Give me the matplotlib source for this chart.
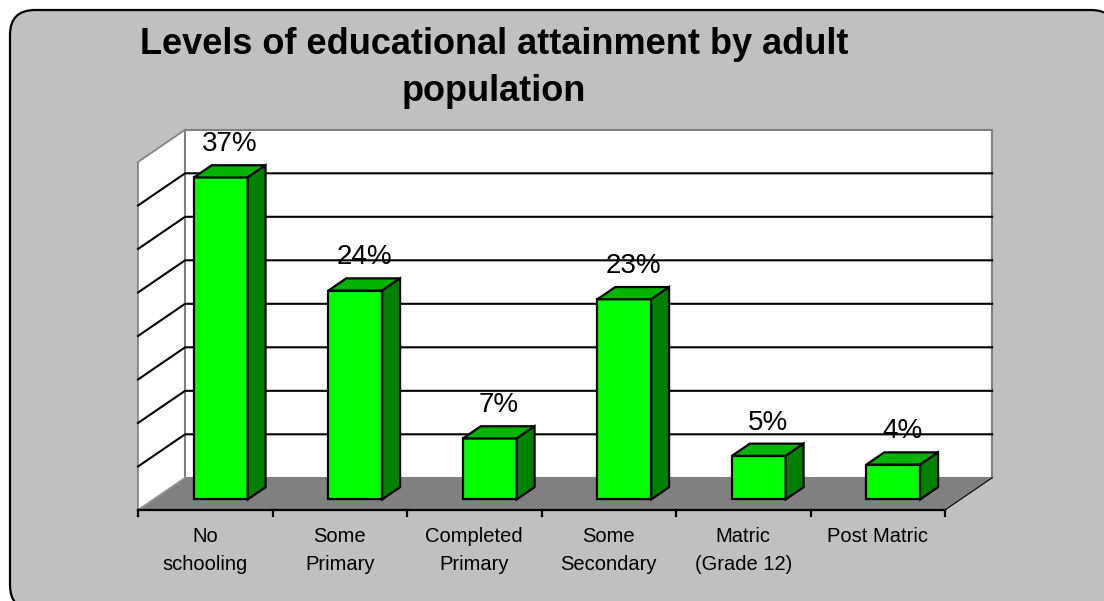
import matplotlib
matplotlib.use('Agg')
import matplotlib.pyplot as plt
from matplotlib.patches import Polygon, FancyBboxPatch

plt.rcParams['font.family'] = ['Liberation Sans', 'DejaVu Sans']

categories = ['No\nschooling', 'Some\nPrimary', 'Completed\nPrimary',
              'Some\nSecondary', 'Matric\n(Grade 12)', 'Post Matric']
shares = [37, 24, 7, 23, 5, 4]
labels = ['37%', '24%', '7%', '23%', '5%', '4%']
y_max, y_step = 40, 5

W, H = 1104, 601
fig = plt.figure(figsize=(W / 100, H / 100), dpi=100)
fig.patch.set_facecolor('white')

# background panel in pixel units
bg = fig.add_axes([0, 0, 1, 1])
bg.set_xlim(0, W); bg.set_ylim(H, 0); bg.axis('off')
bg.add_patch(FancyBboxPatch((10, 10), 1106, 600,
                            boxstyle='round,pad=0,rounding_size=25',
                            fc='#c0c0c0', ec='black', lw=1.6))
bg.text(494, 27, 'Levels of educational attainment by adult\npopulation',
        ha='center', va='top', fontsize=26, fontweight='bold',
        linespacing=1.45)

# front plane of the floor: x in categories, y in percent
left, right, base, top = 138, 945, 510, 510 - y_max * 8.7
ax = fig.add_axes([left / W, (H - base) / H, (right - left) / W, (base - top) / H])
ax.set_xlim(-0.5, len(shares) - 0.5)
ax.set_ylim(0, y_max)
ax.axis('off')

n = len(shares)
DX, DY = 0.35, 3.7          # full depth offset, data units
f1, f2 = 0.33, 0.71          # bar depth range
bw = 0.4
x0, x1 = -0.5, n - 0.5

def poly(pts, fc, ec, lw=1.0, z=1):
    ax.add_patch(Polygon(pts, closed=True, fc=fc, ec=ec, lw=lw,
                         zorder=z, clip_on=False, joinstyle='miter'))

# walls and floor
poly([(x0, 0), (x0 + DX, DY), (x0 + DX, y_max + DY), (x0, y_max)], 'white', '#808080', 1.2)
poly([(x0 + DX, DY), (x1 + DX, DY), (x1 + DX, y_max + DY), (x0 + DX, y_max + DY)],
     'white', '#808080', 1.5)
poly([(x0, 0), (x1, 0), (x1 + DX, DY), (x0 + DX, DY)], '#808080', 'none')
ax.plot([x1, x1 + DX], [0, DY], color='black', lw=0.8, clip_on=False, zorder=2)
ax.plot([x0, x0 + DX], [0, DY], color='#a0a0a0', lw=0.8, clip_on=False, zorder=2)

for v in range(y_step, y_max, y_step):
    ax.plot([x0, x0 + DX, x1 + DX], [v, v + DY, v + DY], color='black',
            lw=1.5, clip_on=False, zorder=2)

# category axis
ax.plot([x0, x1], [0, 0], color='black', lw=1.6, clip_on=False, zorder=3)
for k in range(n + 1):
    ax.plot([x0 + k, x0 + k], [0, -0.7], color='black', lw=1.6, clip_on=False, zorder=3)
for i, c in enumerate(categories):
    ax.annotate(c, (i, 0), xytext=(0, -17), textcoords='offset pixels',
                ha='center', va='top', fontsize=14.5, linespacing=1.6,
                annotation_clip=False)

# bars
for i, v in enumerate(shares):
    xl, xr = i - bw / 2 + f1 * DX, i + bw / 2 + f1 * DX
    y0 = f1 * DY
    ddx, ddy = (f2 - f1) * DX, (f2 - f1) * DY
    poly([(xl, y0), (xr, y0), (xr, y0 + v), (xl, y0 + v)], '#00ff00', 'black', 1.6, 4)
    poly([(xl, y0 + v), (xr, y0 + v), (xr + ddx, y0 + v + ddy), (xl + ddx, y0 + v + ddy)],
         '#00b400', 'black', 1.6, 4)
    poly([(xr, y0), (xr + ddx, y0 + ddy), (xr + ddx, y0 + v + ddy), (xr, y0 + v)],
         '#008000', 'black', 1.6, 4)
    ax.annotate(labels[i], (i + (f1 + f2) / 2 * DX, v + f2 * DY),
                xytext=(0, 14), textcoords='offset pixels',
                ha='center', va='baseline', fontsize=20, zorder=5,
                annotation_clip=False)

fig.savefig('out.png', dpi=100)
